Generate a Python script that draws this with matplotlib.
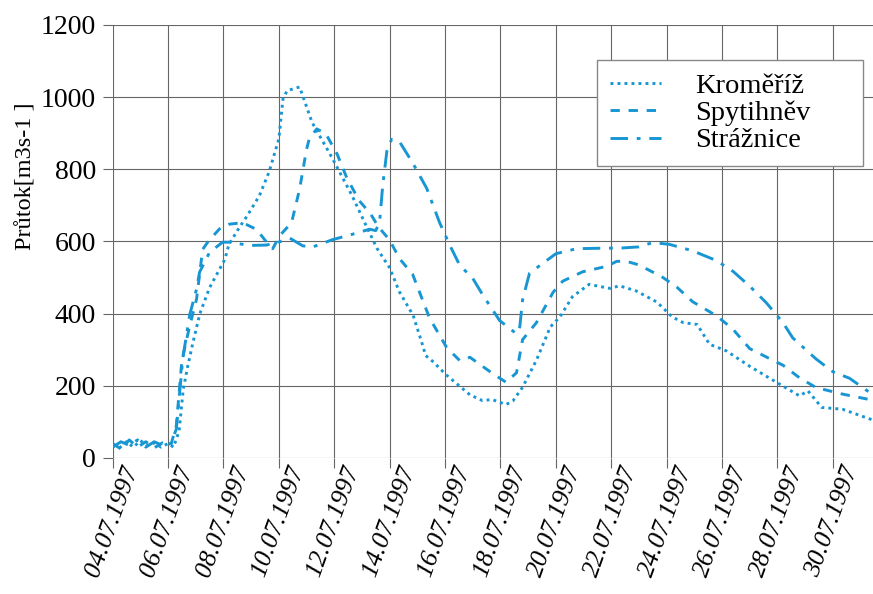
import pandas as pd
import matplotlib.pyplot as plt
import matplotlib.dates as mdates
from matplotlib.transforms import ScaledTranslation

# data: day of July 1997 (fractional) and flow [m3/s]
krom_day = [4.0, 4.25, 4.5, 4.75, 5.0, 5.25, 5.5, 5.75, 6.0, 6.2, 6.4, 6.55, 6.7, 6.9,
            7.15, 7.5, 8.05, 8.2, 8.6, 8.85, 9.3, 9.65, 10.0, 10.15, 10.3, 10.75, 11.2,
            11.95, 12.65, 13.15, 13.55, 14.0, 14.35, 14.85, 15.15, 15.3, 15.55, 16.05,
            16.9, 17.35, 17.7, 18.2, 18.45, 18.8, 19.3, 19.8, 20.15, 20.6, 21.2, 21.95,
            22.3, 22.9, 23.65, 24.2, 24.6, 25.1, 25.55, 26.15, 27.0, 28.2, 28.8, 29.1,
            29.6, 30.35, 31.45]
krom_val = [35, 28, 45, 30, 48, 35, 42, 30, 40, 30, 75, 190, 250, 320,
            400, 472, 550, 592, 642, 670, 727, 793, 884, 995, 1018, 1028, 930,
            828, 726, 644, 580, 527, 461, 395, 323, 284, 268, 230,
            175, 159, 162, 148, 158, 196, 271, 363, 391, 447, 481, 470,
            477, 463, 432, 391, 375, 370, 315, 297, 254, 199, 172, 186,
            140, 135, 105]

spyt_day = [4.0, 4.3, 4.6, 4.9, 5.2, 5.5, 5.8, 6.1, 6.3, 6.5, 6.78, 7.03, 7.25, 7.45,
            7.86, 8.22, 8.7, 9.2, 9.56, 9.78, 10.03, 10.46, 10.75, 11.0, 11.1, 11.37,
            11.7, 12.1, 12.45, 12.9, 13.3, 13.6, 14.0, 14.36, 14.83, 15.44, 16.06,
            16.53, 16.9, 17.7, 18.2, 18.58, 18.8, 19.3, 19.9, 20.25, 20.97, 21.83,
            22.2, 22.55, 23.0, 23.85, 24.36, 24.94, 25.8, 26.38, 27.0, 27.7, 28.2,
            28.8, 29.4, 30.35, 31.45]
spyt_val = [40, 25, 50, 30, 45, 28, 42, 35, 90, 270, 365, 440, 578, 600,
            635, 648, 652, 633, 598, 580, 616, 652, 745, 855, 885, 912,
            898, 843, 777, 713, 678, 640, 604, 552, 509, 388, 306,
            270, 279, 235, 210, 236, 328, 375, 459, 490, 516, 531,
            545, 545, 535, 501, 474, 433, 394, 358, 303, 276, 257,
            222, 195, 177, 160]

straz_day = [4.0, 4.3, 4.6, 4.9, 5.2, 5.5, 5.8, 6.1, 6.3, 6.53, 6.78, 7.03, 7.14,
             7.5, 7.97, 8.2, 8.95, 9.55, 10.03, 10.4, 10.86, 11.2, 11.94, 12.66,
             13.28, 13.5, 13.64, 13.75, 13.9, 14.07, 14.36, 14.83, 15.34, 15.8,
             16.17, 16.53, 17.0, 17.36, 17.97, 18.58, 18.7, 18.8, 19.05, 19.4,
             20.0, 20.75, 21.47, 22.4, 23.0, 23.5, 24.1, 24.94, 25.8, 26.4, 27.0,
             27.6, 28.2, 28.55, 29.4, 30.0, 30.6, 31.45]
straz_val = [30, 45, 35, 50, 30, 45, 35, 40, 80, 274, 396, 468, 515,
             570, 598, 598, 589, 590, 599, 609, 588, 584, 605, 620,
             634, 630, 655, 755, 850, 883, 876, 818, 747, 653,
             590, 534, 498, 452, 381, 344, 364, 439, 512, 532,
             566, 580, 581, 582, 585, 597, 592, 574, 547, 517, 476,
             430, 375, 333, 274, 239, 221, 175]

series = [
    ('Kroměříž', krom_day, krom_val, (0, (1, 1.4))),
    ('Spytihněv', spyt_day, spyt_val, (0, (3.2, 3))),
    ('Strážnice', straz_day, straz_val, (0, (6, 3, 1.3, 3))),
]

plt.rcParams['font.family'] = ['Liberation Serif', 'DejaVu Serif']
plt.rcParams['mathtext.fontset'] = 'stix'

blue = '#1796d3'
start = pd.Timestamp('1997-07-01')

fig = plt.figure(figsize=(8.73, 5.94), dpi=100)
ax = fig.add_axes([0.129, 0.229, 0.871, 0.729])

for name, days, vals, ls in series:
    t = start + pd.to_timedelta([d - 1 for d in days], unit='D')
    ax.plot(t, vals, color=blue, linestyle=ls, linewidth=2.1, label=name)

ax.set_ylim(0, 1200)
ax.set_yticks(range(0, 1201, 200))
ax.set_xlim(start + pd.Timedelta(days=3), start + pd.Timedelta(days=30.45))
ticks = pd.date_range('1997-07-04', '1997-07-30', freq='2D')
ax.set_xticks(ticks)
ax.xaxis.set_major_formatter(mdates.DateFormatter('%d.%m.%Y'))

for s in ax.spines.values():
    s.set_visible(False)
ax.grid(True, color='#666666', linewidth=0.8)
ax.set_axisbelow(True)
ax.tick_params(axis='both', length=7, width=0.8, color='#666666', labelsize=20, pad=5)
ax.tick_params(axis='x', pad=1)
shift = ScaledTranslation(9 / 100, 6 / 100, fig.dpi_scale_trans)
for lab in ax.get_xticklabels():
    lab.set_rotation(70)
    lab.set_ha('right')
    lab.set_rotation_mode('anchor')
    lab.set_style('italic')
    lab.set_fontsize(18.5)
    lab.set_transform(lab.get_transform() + shift)

ax.set_ylabel('Průtok[m3s-1 ]', fontsize=17.5)
ax.yaxis.set_label_coords(-0.1, 0.65)

leg = ax.legend(loc='upper left', bbox_to_anchor=(0.637, 0.674, 0.35, 0.245),
                mode='expand', fontsize=20.5,
                frameon=True, fancybox=False, framealpha=1, edgecolor='#888888',
                handlelength=1.8, handletextpad=1.2, borderpad=0.45, labelspacing=0.05,
                borderaxespad=0)
leg.get_frame().set_linewidth(1.0)

fig.savefig('out.png', dpi=100)
